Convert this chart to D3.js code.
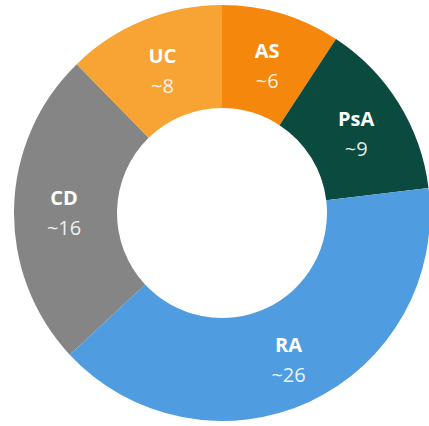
<!DOCTYPE html>
<html>
<head>
<meta charset="utf-8">
<script src="https://cdn.jsdelivr.net/npm/d3@7"></script>
<style>
  body { margin: 0; background: #fff; }
</style>
</head>
<body>
<div id="donut"></div>
<script>
// Data
const categories = ["AS", "PsA", "RA", "CD", "UC"];
const values = [6, 9, 26, 16, 8];
const valueLabels = ["~6", "~9", "~26", "~16", "~8"];
const colors = ["#f5870c", "#0b4a3e", "#4f9de0", "#858585", "#f8a435"];

const data = categories.map((c, i) => ({ name: c, value: values[i], label: valueLabels[i] }));

// Dimensions
const width = 429, height = 426;
const cx = 222, cy = 213;
const outerR = 208, innerR = 105, labelR = 158;

const svg = d3.select("#donut")
    .append("svg")
    .attr("width", width)
    .attr("height", height)
  .append("g")
    .attr("transform", "translate(" + cx + "," + cy + ")");

const color = d3.scaleOrdinal()
    .domain(categories)
    .range(colors);

const pie = d3.pie()
    .value(d => d.value)
    .sort(null);

const arc = d3.arc()
    .innerRadius(innerR)
    .outerRadius(outerR);

const labelArc = d3.arc()
    .innerRadius(labelR)
    .outerRadius(labelR);

const arcs = pie(data);

// Slices
svg.selectAll("path")
    .data(arcs)
    .enter()
    .append("path")
    .attr("d", arc)
    .attr("fill", d => color(d.data.name));

// Labels: bold name, value underneath
const labels = svg.selectAll(".label")
    .data(arcs)
    .enter()
    .append("text")
    .attr("class", "label")
    .attr("transform", d => "translate(" + labelArc.centroid(d) + ")")
    .attr("text-anchor", "middle")
    .style("font-family", "'Open Sans', sans-serif")
    .style("font-size", "20px")
    .attr("fill", "#fff");

labels.append("tspan")
    .attr("x", 0)
    .attr("dy", "-0.2em")
    .style("font-weight", "bold")
    .text(d => d.data.name);

labels.append("tspan")
    .attr("x", 0)
    .attr("dy", "1.5em")
    .attr("fill-opacity", 0.9)
    .text(d => d.data.label);
</script>
</body>
</html>
